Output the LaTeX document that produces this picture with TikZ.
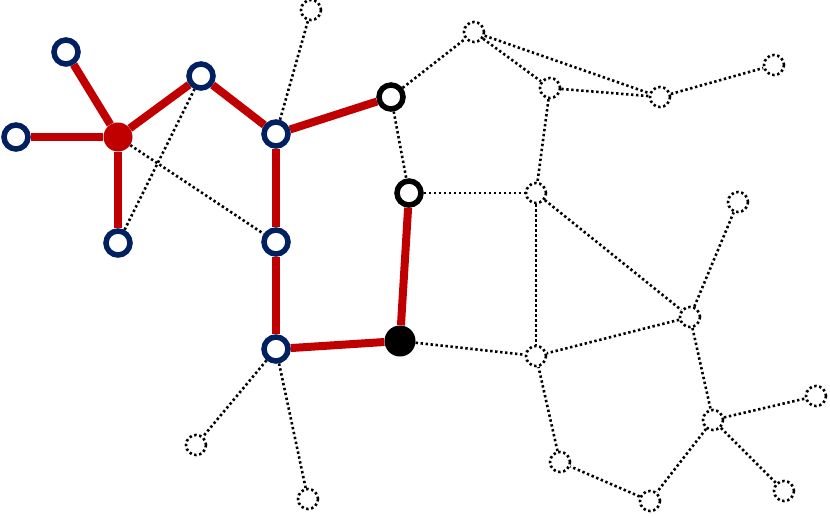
\documentclass[tikz,border=0pt]{standalone}
\usetikzlibrary{backgrounds}
\definecolor{cred}{RGB}{192,0,0}
\definecolor{cblue}{RGB}{0,32,96}
\begin{document}
\begin{tikzpicture}[x=1pt,y=-1pt,
  bring/.style={circle,draw=cblue,line width=5.5pt,fill=white,minimum size=24pt,inner sep=0pt},
  kring/.style={circle,draw=black,line width=5.5pt,fill=white,minimum size=24pt,inner sep=0pt},
  rdot/.style={circle,fill=cred,minimum size=29pt,inner sep=0pt},
  kdot/.style={circle,fill=black,minimum size=31pt,inner sep=0pt},
  gdot/.style={circle,draw=black,line width=2.6pt,dash pattern=on 2.4pt off 2.6pt,fill=white,minimum size=20pt,inner sep=0pt},
  redge/.style={draw=cred,line width=8pt},
  dedge/.style={draw=black,line width=2.6pt,dash pattern=on 2.4pt off 2.6pt}]
\useasboundingbox (0,0) rectangle (830,517);
% main nodes
\node[bring] (A) at (66,52) {};
\node[bring] (B) at (16,137) {};
\node[rdot]  (C) at (118,137) {};
\node[bring] (D) at (118,243) {};
\node[bring] (E) at (201,76) {};
\node[bring] (F) at (276,134) {};
\node[bring] (G) at (276,242) {};
\node[bring] (H) at (276,349) {};
\node[kring] (I) at (391,97) {};
\node[kring] (J) at (409,193) {};
\node[kdot]  (K) at (400,341) {};
% grey dotted nodes
\node[gdot] (n1) at (311,10) {};
\node[gdot] (n2) at (474,32) {};
\node[gdot] (n3) at (550,88) {};
\node[gdot] (n4) at (660,97) {};
\node[gdot] (n5) at (774,65) {};
\node[gdot] (n6) at (536,193) {};
\node[gdot] (n7) at (738,202) {};
\node[gdot] (n8) at (690,317) {};
\node[gdot] (n9) at (536,356) {};
\node[gdot] (n10) at (713,420) {};
\node[gdot] (n11) at (816,396) {};
\node[gdot] (n12) at (560,462) {};
\node[gdot] (n13) at (650,501) {};
\node[gdot] (n14) at (784,491) {};
\node[gdot] (n15) at (196,445) {};
\node[gdot] (n16) at (308,499) {};
\begin{scope}[on background layer]
% red path
\draw[redge] (A) -- (C);
\draw[redge] (B) -- (C);
\draw[redge] (C) -- (D);
\draw[redge] (C) -- (E);
\draw[redge] (E) -- (F);
\draw[redge] (F) -- (I);
\draw[redge] (F) -- (G);
\draw[redge] (G) -- (H);
\draw[redge] (H) -- (K);
\draw[redge] (K) -- (J);
% dotted edges
\draw[dedge] (C) -- (G);
\draw[dedge] (D) -- (E);
\draw[dedge] (F) -- (n1);
\draw[dedge] (I) -- (n2);
\draw[dedge] (I) -- (J);
\draw[dedge] (n2) -- (n3);
\draw[dedge] (n2) -- (n4);
\draw[dedge] (n3) -- (n4);
\draw[dedge] (n4) -- (n5);
\draw[dedge] (n3) -- (n6);
\draw[dedge] (J) -- (n6);
\draw[dedge] (n6) -- (n9);
\draw[dedge] (n6) -- (n8);
\draw[dedge] (n8) -- (n7);
\draw[dedge] (n8) -- (n9);
\draw[dedge] (K) -- (n9);
\draw[dedge] (n8) -- (n10);
\draw[dedge] (n10) -- (n11);
\draw[dedge] (n10) -- (n14);
\draw[dedge] (n10) -- (n13);
\draw[dedge] (n13) -- (n12);
\draw[dedge] (n12) -- (n9);
\draw[dedge] (H) -- (n15);
\draw[dedge] (H) -- (n16);
\end{scope}
\end{tikzpicture}
\end{document}
